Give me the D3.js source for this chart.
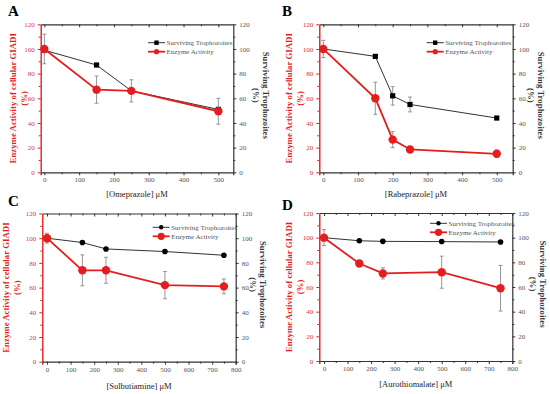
<!DOCTYPE html>
<html>
<head>
<meta charset="utf-8">
<script src="https://cdn.jsdelivr.net/npm/d3@7"></script>
<style>
body { margin: 0; background: #fff; }
svg text { font-family: "Liberation Serif", "DejaVu Serif", serif; }
</style>
</head>
<body>
<div id="chart"></div>
<script>
// data
var xA = [0, 150, 250, 500];
var survA = [99, 87, 66, 51];
var enzA = [100, 67, 66, 49.5];
var enzErrA = [12, 11, 9, 10.5];

var xB = [0, 150, 200, 250, 500];
var survB = [100, 94, 62, 55, 44];
var survErrB = [0, 0, 7.5, 6, 0];
var enzB = [100, 60, 26.5, 18.5, 15];
var enzErrB = [7, 13, 6.5, 1, 3];

var xC = [0, 150, 250, 500, 750];
var survC = [100, 96.5, 91.3, 89.2, 86.2];
var enzC = [100, 74, 74, 62, 61];
var enzErrC = [4, 12.5, 10.5, 11, 6];

var xD = [0, 150, 250, 500, 750];
var survD = [100, 97.5, 97, 96.8, 96.5];
var enzD = [100, 79, 71, 72, 59];
var enzErrD = [6.5, 1.5, 4.5, 13, 18.5];

var yTicks = [0, 20, 40, 60, 80, 100, 120];
var xTicks500 = [0, 100, 200, 300, 400, 500];
var xTicks800 = [0, 100, 200, 300, 400, 500, 600, 700, 800];

var panels = [
	{ letter: 'A', xs: xA, surv: survA, survErr: null, enz: enzA, enzErr: enzErrA, marker: 'square',
	  drug: '[Omeprazole] \u03bcM', xdom: [-10.5, 543], xticks: xTicks500,
	  left: 40.7, right: 233.3, top: 24.3, bottom: 172.3, lx: 8, ly: 16, titleL: 13, titleR: 266.5, xlabY: 197, legX: 148, legY: 42.7 },
	{ letter: 'B', xs: xB, surv: survB, survErr: survErrB, enz: enzB, enzErr: enzErrB, marker: 'square',
	  drug: '[Rabeprazole] \u03bcM', xdom: [-11.5, 546], xticks: xTicks500,
	  left: 319.3, right: 512.7, top: 24.3, bottom: 172.3, lx: 282, ly: 16, titleL: 288.5, titleR: 541.5, xlabY: 197, legX: 426.7, legY: 42.7 },
	{ letter: 'C', xs: xC, surv: survC, survErr: null, enz: enzC, enzErr: enzErrC, marker: 'circle',
	  drug: '[Sulbutiamine] \u03bcM', xdom: [-20, 800], xticks: xTicks800,
	  left: 42.3, right: 235.7, top: 213.5, bottom: 361.7, lx: 8, ly: 206, titleL: 6, titleR: 263.5, xlabY: 389, legX: 152.7, legY: 227.3 },
	{ letter: 'D', xs: xD, surv: survD, survErr: null, enz: enzD, enzErr: enzErrD, marker: 'circle',
	  drug: '[Aurothiomalate] \u03bcM', xdom: [-20, 800], xticks: xTicks800,
	  left: 319.3, right: 512.3, top: 213, bottom: 361, lx: 282, ly: 210, titleL: 288.5, titleR: 543, xlabY: 387, legX: 430, legY: 223.3 }
];

var red = '#e41e1e';
var redText = '#cf3a3a';
var dark = '#333';
var grayText = '#555';

var svg = d3.select('#chart').append('svg')
	.attr('width', 550)
	.attr('height', 394);

function drawMarker(g, type, cx, cy, color, size) {
	if (type === 'square') {
		g.append('rect')
			.attr('x', cx - size).attr('y', cy - size)
			.attr('width', size * 2).attr('height', size * 2)
			.attr('fill', color);
	} else {
		g.append('circle')
			.attr('cx', cx).attr('cy', cy).attr('r', size)
			.attr('fill', color);
	}
}

panels.forEach(function(p) {
	var g = svg.append('g');
	var x = d3.scaleLinear().domain(p.xdom).range([p.left, p.right]);
	var y = d3.scaleLinear().domain([0, 120]).range([p.bottom, p.top]);

	var minorY = d3.range(10, 120, 20);
	var minorX = p.xticks.slice(0, -1).map(function(d) { return d + 50; }).filter(function(d) { return d < p.xdom[1]; });

	// bottom axis
	var bot = g.append('g').attr('transform', 'translate(0,' + p.bottom + ')')
		.call(d3.axisBottom(x).tickValues(p.xticks).tickSize(3).tickPadding(2));
	g.append('g').attr('transform', 'translate(0,' + p.bottom + ')')
		.call(d3.axisBottom(x).tickValues(minorX).tickSize(2).tickFormat(''))
		.select('.domain').remove();
	// top axis, ticks pointing in
	g.append('g').attr('transform', 'translate(0,' + p.top + ')')
		.call(d3.axisBottom(x).tickValues(p.xticks).tickSize(3).tickSizeOuter(0).tickFormat(''));
	g.append('g').attr('transform', 'translate(0,' + p.top + ')')
		.call(d3.axisBottom(x).tickValues(minorX).tickSize(2).tickFormat(''))
		.select('.domain').remove();

	// right axis
	var rgt = g.append('g').attr('transform', 'translate(' + p.right + ',0)')
		.call(d3.axisRight(y).tickValues(yTicks).tickSize(3).tickSizeOuter(0).tickPadding(3));
	g.append('g').attr('transform', 'translate(' + p.right + ',0)')
		.call(d3.axisRight(y).tickValues(minorY).tickSize(2).tickFormat(''))
		.select('.domain').remove();

	// left axis in red
	var lft = g.append('g').attr('transform', 'translate(' + p.left + ',0)')
		.call(d3.axisLeft(y).tickValues(yTicks).tickSize(3).tickSizeOuter(0).tickPadding(3));
	var lftMinor = g.append('g').attr('transform', 'translate(' + p.left + ',0)')
		.call(d3.axisLeft(y).tickValues(minorY).tickSize(2).tickFormat(''));
	lftMinor.select('.domain').remove();

	g.selectAll('.domain').attr('stroke', dark).attr('stroke-width', 1.2);
	g.selectAll('.tick line').attr('stroke', dark);
	g.selectAll('.tick text').attr('fill', grayText).style('font-size', '7px');
	lft.select('.domain').attr('stroke', red).attr('stroke-width', 1.4);
	lft.selectAll('.tick line').attr('stroke', red);
	lftMinor.selectAll('.tick line').attr('stroke', red);
	lft.selectAll('.tick text').attr('fill', redText);

	// axis titles
	var cy = (p.top + p.bottom) / 2;
	g.append('text')
		.attr('transform', 'translate(' + p.titleL + ',' + cy + ') rotate(-90)')
		.attr('text-anchor', 'middle').attr('dy', '0.35em')
		.attr('fill', red).attr('font-weight', 'bold').style('font-size', '8.8px')
		.text('Enzyme Activity  of cellular  GIADI');
	g.append('text')
		.attr('transform', 'translate(' + (p.titleL + 11) + ',' + cy + ') rotate(-90)')
		.attr('text-anchor', 'middle').attr('dy', '0.35em')
		.attr('fill', red).attr('font-weight', 'bold').style('font-size', '8.8px')
		.text('(%)');
	g.append('text')
		.attr('transform', 'translate(' + p.titleR + ',' + (cy - 3) + ') rotate(90)')
		.attr('text-anchor', 'middle').attr('dy', '0.35em')
		.attr('fill', '#3a3a3a').attr('font-weight', 'bold').style('font-size', '8.8px')
		.text('Surviving Trophozoites');
	g.append('text')
		.attr('transform', 'translate(' + (p.titleR - 10) + ',' + (cy - 3) + ') rotate(90)')
		.attr('text-anchor', 'middle').attr('dy', '0.35em')
		.attr('fill', '#3a3a3a').attr('font-weight', 'bold').style('font-size', '8.8px')
		.text('(%)');

	// x title and panel letter
	g.append('text')
		.attr('x', (p.left + p.right) / 2).attr('y', p.xlabY)
		.attr('text-anchor', 'middle').attr('fill', '#222')
		.style('font-size', '8.5px')
		.text(p.drug);
	g.append('text')
		.attr('x', p.lx).attr('y', p.ly)
		.attr('fill', '#000').attr('font-weight', 'bold').style('font-size', '15px')
		.text(p.letter);

	// error bars
	function errBars(vals, errs) {
		if (!errs) return;
		p.xs.forEach(function(xv, i) {
			if (!errs[i]) return;
			var px = x(xv), y1 = y(vals[i] + errs[i]), y2 = y(vals[i] - errs[i]);
			g.append('line').attr('x1', px).attr('x2', px).attr('y1', y1).attr('y2', y2)
				.attr('stroke', '#8a8a8a').attr('stroke-width', 0.9);
			[y1, y2].forEach(function(yy) {
				g.append('line').attr('x1', px - 2).attr('x2', px + 2).attr('y1', yy).attr('y2', yy)
					.attr('stroke', '#8a8a8a').attr('stroke-width', 0.9);
			});
		});
	}
	errBars(p.surv, p.survErr);
	errBars(p.enz, p.enzErr);

	var line = d3.line()
		.x(function(d) { return x(d[0]); })
		.y(function(d) { return y(d[1]); });

	var survPts = p.xs.map(function(d, i) { return [d, p.surv[i]]; });
	var enzPts = p.xs.map(function(d, i) { return [d, p.enz[i]]; });

	g.append('path').datum(survPts).attr('d', line)
		.attr('fill', 'none').attr('stroke', dark).attr('stroke-width', 1);
	survPts.forEach(function(d) {
		drawMarker(g, p.marker, x(d[0]), y(d[1]), '#000', p.marker === 'square' ? 2.6 : 2.8);
	});

	g.append('path').datum(enzPts).attr('d', line)
		.attr('fill', 'none').attr('stroke', red).attr('stroke-width', 1.8);
	enzPts.forEach(function(d) {
		drawMarker(g, 'circle', x(d[0]), y(d[1]), red, 4.2);
	});

	// legend
	var legItems = [
		{ label: 'Surviving Trophozoites', color: dark, mcol: '#000', marker: p.marker, w: 1, ms: 2.2 },
		{ label: 'Enzyme Activity', color: red, mcol: red, marker: 'circle', w: 1.8, ms: p.marker === 'square' ? 2.6 : 3.6 }
	];
	legItems.forEach(function(it, i) {
		var ly = p.legY + i * 9;
		g.append('line').attr('x1', p.legX).attr('x2', p.legX + 17).attr('y1', ly).attr('y2', ly)
			.attr('stroke', it.color).attr('stroke-width', it.w);
		drawMarker(g, it.marker, p.legX + 8.5, ly, it.mcol, it.ms);
		g.append('text').attr('x', p.legX + 18.5).attr('y', ly).attr('dy', '0.33em')
			.attr('fill', grayText).style('font-size', '7px')
			.text(it.label);
	});
});
</script>
</body>
</html>
